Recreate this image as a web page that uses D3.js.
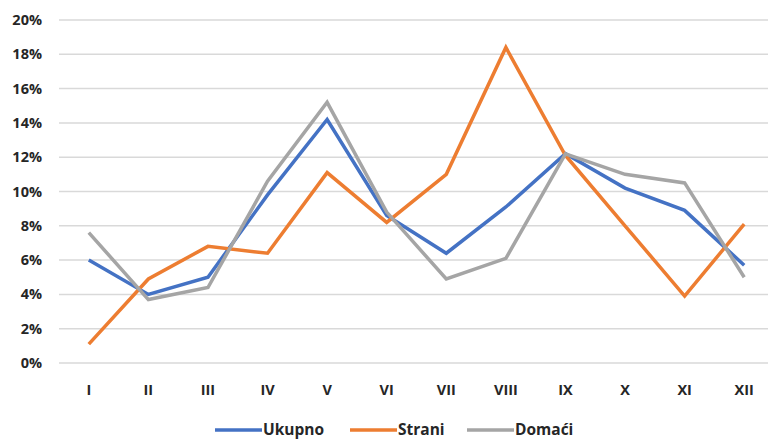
<!DOCTYPE html>
<html>
<head>
<meta charset="utf-8">
<script src="https://cdn.jsdelivr.net/npm/d3@7"></script>
<style>
  body { margin: 0; background: #fff; }
  .tick_label { font-family: "Open Sans", sans-serif; font-weight: 700; font-size: 14.5px; fill: #262626; }
  .legend_label { font-family: "Open Sans", sans-serif; font-weight: 700; font-size: 15.5px; fill: #262626; }
  .grid_line { stroke: #d9d9d9; stroke-width: 1.5; }
  .series_line { fill: none; stroke-width: 3.5; stroke-linejoin: miter; }
</style>
</head>
<body>
<div class="chart"></div>
<script>
const months = ["I", "II", "III", "IV", "V", "VI", "VII", "VIII", "IX", "X", "XI", "XII"]
const yTicks = [0, 2, 4, 6, 8, 10, 12, 14, 16, 18, 20]

const ukupno = [6.0, 4.0, 5.0, 9.8, 14.2, 8.6, 6.4, 9.1, 12.2, 10.2, 8.9, 5.7]
const strani = [1.1, 4.9, 6.8, 6.4, 11.1, 8.2, 11.0, 18.4, 12.1, 8.0, 3.9, 8.1]
const domaci = [7.6, 3.7, 4.4, 10.6, 15.2, 8.8, 4.9, 6.1, 12.2, 11.0, 10.5, 5.0]

const seriesNames = ["Ukupno", "Strani", "Domaći"]
const seriesColors = ["#4472c4", "#ed7d31", "#a5a5a5"]

function drawChart() {
    const width = 768
    const height = 441
    const margin = { top: 20, right: -6, bottom: 78, left: 59 }

    const svg = d3.select(".chart")
        .append("svg")
        .attr("width", width)
        .attr("height", height)

    const x = d3.scaleBand()
        .domain(months)
        .range([margin.left, width - margin.right])

    const y = d3.scaleLinear()
        .domain([0, 20])
        .range([height - margin.bottom, margin.top])

    // gridlines
    svg.append("g")
        .selectAll("line")
        .data(yTicks)
        .join("line")
        .attr("class", "grid_line")
        .attr("x1", margin.left)
        .attr("x2", width)
        .attr("y1", d => y(d))
        .attr("y2", d => y(d))

    // y labels
    svg.append("g")
        .selectAll("text")
        .data(yTicks)
        .join("text")
        .attr("class", "tick_label")
        .attr("x", 42)
        .attr("y", d => y(d))
        .attr("dy", "0.35em")
        .attr("text-anchor", "end")
        .text(d => d + "%")

    // x labels
    svg.append("g")
        .selectAll("text")
        .data(months)
        .join("text")
        .attr("class", "tick_label")
        .attr("x", d => x(d) + x.bandwidth() / 2)
        .attr("y", 390)
        .attr("dy", "0.35em")
        .attr("text-anchor", "middle")
        .text(d => d)

    const line = d3.line()
        .x((d, i) => x(months[i]) + x.bandwidth() / 2)
        .y(d => y(d))

    const allSeries = [ukupno, strani, domaci]

    svg.append("g")
        .selectAll("path")
        .data(allSeries)
        .join("path")
        .attr("class", "series_line")
        .attr("stroke", (d, i) => seriesColors[i])
        .attr("d", line)

    // legend
    const legendX = [215, 350, 467]
    const legend = svg.append("g")
        .selectAll("g")
        .data(seriesNames)
        .join("g")
        .attr("transform", (d, i) => `translate(${legendX[i]},430)`)

    legend.append("line")
        .attr("x1", 0)
        .attr("x2", 47)
        .attr("stroke", (d, i) => seriesColors[i])
        .attr("stroke-width", 3.5)

    legend.append("text")
        .attr("class", "legend_label")
        .attr("x", 48)
        .attr("dy", "0.35em")
        .text(d => d)
}

drawChart()
</script>
</body>
</html>
